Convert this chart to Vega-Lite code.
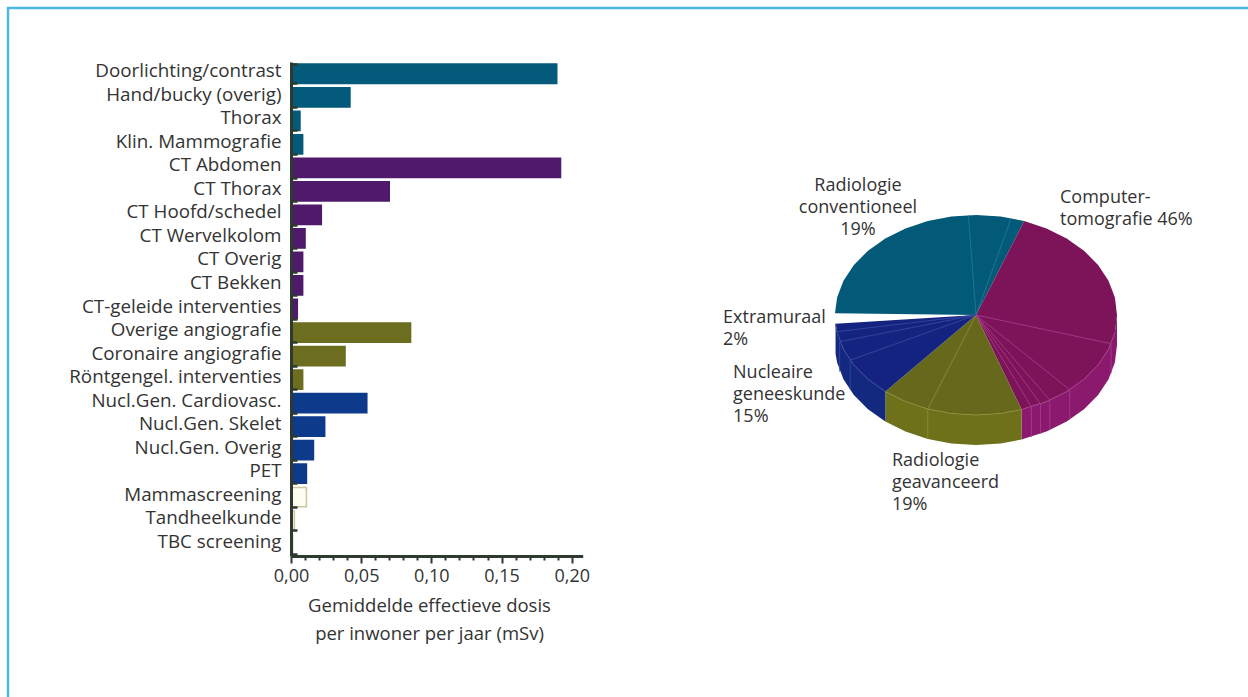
{"$schema":"https://vega.github.io/schema/vega-lite/v6.json","width":1260,"height":709,"autosize":{"type":"none"},"padding":{"left":8,"top":8,"right":-20,"bottom":-20},"background":"#ffffff","view":{"stroke":"#4db9e9","strokeWidth":2.5,"fill":null},"config":{"font":"Open Sans","axis":{"grid":false}},
"datasets":{
"bars":[{"cat":"Doorlichting/contrast","dose":0.1893,"group":"conv"},{"cat":"Hand/bucky (overig)","dose":0.042,"group":"conv"},{"cat":"Thorax","dose":0.0064,"group":"conv"},{"cat":"Klin. Mammografie","dose":0.0083,"group":"conv"},{"cat":"CT Abdomen","dose":0.192,"group":"ct"},{"cat":"CT Thorax","dose":0.07,"group":"ct"},{"cat":"CT Hoofd/schedel","dose":0.0216,"group":"ct"},{"cat":"CT Wervelkolom","dose":0.01,"group":"ct"},{"cat":"CT Overig","dose":0.0083,"group":"ct"},{"cat":"CT Bekken","dose":0.0083,"group":"ct"},{"cat":"CT-geleide interventies","dose":0.0045,"group":"ct"},{"cat":"Overige angiografie","dose":0.0852,"group":"adv"},{"cat":"Coronaire angiografie","dose":0.0385,"group":"adv"},{"cat":"Röntgengel. interventies","dose":0.0083,"group":"adv"},{"cat":"Nucl.Gen. Cardiovasc.","dose":0.054,"group":"nuc"},{"cat":"Nucl.Gen. Skelet","dose":0.024,"group":"nuc"},{"cat":"Nucl.Gen. Overig","dose":0.016,"group":"nuc"},{"cat":"PET","dose":0.011,"group":"nuc"},{"cat":"Mammascreening","dose":0.011,"group":"extra"},{"cat":"Tandheelkunde","dose":0.0024,"group":"extra"},{"cat":"TBC screening","dose":0.0012,"group":"extra"}],
"poly":[
{"f":"conv","i":0,"u":0,"v":0},{"f":"conv","i":1,"u":-1,"v":-0.017},{"f":"conv","i":2,"u":-0.985,"v":-0.174},{"f":"conv","i":3,"u":-0.94,"v":-0.342},{"f":"conv","i":4,"u":-0.866,"v":-0.5},{"f":"conv","i":5,"u":-0.766,"v":-0.643},{"f":"conv","i":6,"u":-0.643,"v":-0.766},{"f":"conv","i":7,"u":-0.5,"v":-0.866},{"f":"conv","i":8,"u":-0.342,"v":-0.94},{"f":"conv","i":9,"u":-0.174,"v":-0.985},{"f":"conv","i":10,"u":0,"v":-1},{"f":"conv","i":11,"u":0.174,"v":-0.985},{"f":"conv","i":12,"u":0.342,"v":-0.94},
{"f":"ct-side","i":0,"u":1,"v":0},{"f":"ct-side","i":1,"u":0.985,"v":0.174},{"f":"ct-side","i":2,"u":0.94,"v":0.342},{"f":"ct-side","i":3,"u":0.866,"v":0.5},{"f":"ct-side","i":4,"u":0.766,"v":0.643},{"f":"ct-side","i":5,"u":0.643,"v":0.766},{"f":"ct-side","i":6,"u":0.5,"v":0.866},{"f":"ct-side","i":7,"u":0.323,"v":0.945},{"f":"ct-side","i":8,"u":0.323,"v":1.245},{"f":"ct-side","i":9,"u":0.5,"v":1.166},{"f":"ct-side","i":10,"u":0.643,"v":1.066},{"f":"ct-side","i":11,"u":0.766,"v":0.943},{"f":"ct-side","i":12,"u":0.866,"v":0.8},{"f":"ct-side","i":13,"u":0.94,"v":0.642},{"f":"ct-side","i":14,"u":0.985,"v":0.474},{"f":"ct-side","i":15,"u":1,"v":0.3},
{"f":"adv-side","i":0,"u":0.323,"v":0.945},{"f":"adv-side","i":1,"u":0.174,"v":0.985},{"f":"adv-side","i":2,"u":0,"v":1},{"f":"adv-side","i":3,"u":-0.174,"v":0.985},{"f":"adv-side","i":4,"u":-0.342,"v":0.94},{"f":"adv-side","i":5,"u":-0.5,"v":0.866},{"f":"adv-side","i":6,"u":-0.643,"v":0.766},{"f":"adv-side","i":7,"u":-0.643,"v":1.066},{"f":"adv-side","i":8,"u":-0.5,"v":1.166},{"f":"adv-side","i":9,"u":-0.342,"v":1.24},{"f":"adv-side","i":10,"u":-0.174,"v":1.285},{"f":"adv-side","i":11,"u":0,"v":1.3},{"f":"adv-side","i":12,"u":0.174,"v":1.285},{"f":"adv-side","i":13,"u":0.323,"v":1.245},
{"f":"nuc-side","i":0,"u":-0.643,"v":0.766},{"f":"nuc-side","i":1,"u":-0.766,"v":0.643},{"f":"nuc-side","i":2,"u":-0.866,"v":0.5},{"f":"nuc-side","i":3,"u":-0.94,"v":0.342},{"f":"nuc-side","i":4,"u":-0.985,"v":0.174},{"f":"nuc-side","i":5,"u":-0.996,"v":0.087},{"f":"nuc-side","i":6,"u":-0.996,"v":0.387},{"f":"nuc-side","i":7,"u":-0.985,"v":0.474},{"f":"nuc-side","i":8,"u":-0.94,"v":0.642},{"f":"nuc-side","i":9,"u":-0.866,"v":0.8},{"f":"nuc-side","i":10,"u":-0.766,"v":0.943},{"f":"nuc-side","i":11,"u":-0.643,"v":1.066},
{"f":"ct","i":0,"u":0,"v":0},{"f":"ct","i":1,"u":0.342,"v":-0.94},{"f":"ct","i":2,"u":0.5,"v":-0.866},{"f":"ct","i":3,"u":0.643,"v":-0.766},{"f":"ct","i":4,"u":0.766,"v":-0.643},{"f":"ct","i":5,"u":0.866,"v":-0.5},{"f":"ct","i":6,"u":0.94,"v":-0.342},{"f":"ct","i":7,"u":0.985,"v":-0.174},{"f":"ct","i":8,"u":1,"v":0},{"f":"ct","i":9,"u":0.985,"v":0.174},{"f":"ct","i":10,"u":0.94,"v":0.342},{"f":"ct","i":11,"u":0.866,"v":0.5},{"f":"ct","i":12,"u":0.766,"v":0.643},{"f":"ct","i":13,"u":0.643,"v":0.766},{"f":"ct","i":14,"u":0.5,"v":0.866},{"f":"ct","i":15,"u":0.323,"v":0.945},
{"f":"adv","i":0,"u":0,"v":0},{"f":"adv","i":1,"u":0.323,"v":0.945},{"f":"adv","i":2,"u":0.174,"v":0.985},{"f":"adv","i":3,"u":0,"v":1},{"f":"adv","i":4,"u":-0.174,"v":0.985},{"f":"adv","i":5,"u":-0.342,"v":0.94},{"f":"adv","i":6,"u":-0.5,"v":0.866},{"f":"adv","i":7,"u":-0.643,"v":0.766},
{"f":"nuc","i":0,"u":0,"v":0},{"f":"nuc","i":1,"u":-0.643,"v":0.766},{"f":"nuc","i":2,"u":-0.766,"v":0.643},{"f":"nuc","i":3,"u":-0.866,"v":0.5},{"f":"nuc","i":4,"u":-0.94,"v":0.342},{"f":"nuc","i":5,"u":-0.985,"v":0.174},{"f":"nuc","i":6,"u":-0.996,"v":0.087}],
"lines":[
{"l":"a","g":"conv","i":0,"u":0,"v":0},{"l":"a","g":"conv","i":1,"u":-0.054,"v":-0.999},
{"l":"b","g":"conv","i":0,"u":0,"v":0},{"l":"b","g":"conv","i":1,"u":0.25,"v":-0.968},
{"l":"c","g":"ct","i":0,"u":0,"v":0},{"l":"c","g":"ct","i":1,"u":0.958,"v":0.287},{"l":"c","g":"ct","i":2,"u":0.958,"v":0.587},
{"l":"d","g":"ct","i":0,"u":0,"v":0},{"l":"d","g":"ct","i":1,"u":0.665,"v":0.747},{"l":"d","g":"ct","i":2,"u":0.665,"v":1.047},
{"l":"e","g":"ct","i":0,"u":0,"v":0},{"l":"e","g":"ct","i":1,"u":0.524,"v":0.852},{"l":"e","g":"ct","i":2,"u":0.524,"v":1.152},
{"l":"f","g":"ct","i":0,"u":0,"v":0},{"l":"f","g":"ct","i":1,"u":0.458,"v":0.889},{"l":"f","g":"ct","i":2,"u":0.458,"v":1.189},
{"l":"g","g":"ct","i":0,"u":0,"v":0},{"l":"g","g":"ct","i":1,"u":0.393,"v":0.92},{"l":"g","g":"ct","i":2,"u":0.393,"v":1.22},
{"l":"h","g":"adv","i":0,"u":0,"v":0},{"l":"h","g":"adv","i":1,"u":-0.342,"v":0.94},{"l":"h","g":"adv","i":2,"u":-0.342,"v":1.24},
{"l":"j","g":"nuc","i":0,"u":0,"v":0},{"l":"j","g":"nuc","i":1,"u":-0.892,"v":0.452},{"l":"j","g":"nuc","i":2,"u":-0.892,"v":0.752},
{"l":"k","g":"nuc","i":0,"u":0,"v":0},{"l":"k","g":"nuc","i":1,"u":-0.967,"v":0.267},{"l":"k","g":"nuc","i":2,"u":-0.967,"v":0.567},
{"l":"m","g":"nuc","i":0,"u":0,"v":0},{"l":"m","g":"nuc","i":1,"u":-0.986,"v":0.167},
{"l":"r1","g":"ct","i":0,"u":0.985,"v":0.174},{"l":"r1","g":"ct","i":1,"u":0.94,"v":0.342},{"l":"r1","g":"ct","i":2,"u":0.866,"v":0.5},{"l":"r1","g":"ct","i":3,"u":0.766,"v":0.643},{"l":"r1","g":"ct","i":4,"u":0.643,"v":0.766},{"l":"r1","g":"ct","i":5,"u":0.5,"v":0.866},{"l":"r1","g":"ct","i":6,"u":0.323,"v":0.945},
{"l":"r2","g":"adv","i":0,"u":0.323,"v":0.945},{"l":"r2","g":"adv","i":1,"u":0.174,"v":0.985},{"l":"r2","g":"adv","i":2,"u":0,"v":1},{"l":"r2","g":"adv","i":3,"u":-0.174,"v":0.985},{"l":"r2","g":"adv","i":4,"u":-0.342,"v":0.94},{"l":"r2","g":"adv","i":5,"u":-0.5,"v":0.866},{"l":"r2","g":"adv","i":6,"u":-0.643,"v":0.766},
{"l":"r3","g":"nuc","i":0,"u":-0.643,"v":0.766},{"l":"r3","g":"nuc","i":1,"u":-0.766,"v":0.643},{"l":"r3","g":"nuc","i":2,"u":-0.866,"v":0.5},{"l":"r3","g":"nuc","i":3,"u":-0.94,"v":0.342},{"l":"r3","g":"nuc","i":4,"u":-0.985,"v":0.174},{"l":"r3","g":"nuc","i":5,"u":-0.996,"v":0.087}]
},
"layer":[
{"data":{"name":"bars"},"mark":{"type":"bar","strokeWidth":1.5},
"encoding":{
"y":{"field":"cat","type":"nominal","sort":null,"scale":{"type":"band","range":[54,548],"paddingInner":0.18,"paddingOuter":0.09},
"axis":{"title":null,"orient":"left","offset":-283,"grid":false,"domainColor":"#2f3a2f","domainWidth":3,"tickBand":"extent","tickColor":"#2f3a2f","tickWidth":2.5,"tickSize":-6,"labelFontSize":18.8,"labelColor":"#333333","labelPadding":16,"labelOffset":-3,"labelLimit":300,"labelOverlap":false,"zindex":1}},
"x":{"field":"dose","type":"quantitative","scale":{"domain":[0,0.2078],"range":[283,574.7],"nice":false},
"axis":{"title":["Gemiddelde effectieve dosis","per inwoner per jaar (mSv)"],"orient":"bottom","offset":-161,"grid":false,"values":[0,0.01,0.02,0.03,0.04,0.05,0.06,0.07,0.08,0.09,0.1,0.11,0.12,0.13,0.14,0.15,0.16,0.17,0.18,0.19,0.2],"labelExpr":"round(datum.value*100)%5==0 ? replace(format(datum.value,'.2f'),'.',',') : ''","domainColor":"#2f3a2f","domainWidth":3,"tickColor":"#2f3a2f","tickWidth":2,"tickSize":{"condition":{"test":"round(datum.value*100)%5==0","value":7},"value":4},"labelFontSize":18,"labelColor":"#333333","labelPadding":4,"labelOverlap":false,"labelFlush":false,"titleFontSize":18.5,"titleFontWeight":"normal","titleColor":"#333333","titleLineHeight":28,"titleX":421,"titleY":40,"zindex":1}},
"fill":{"field":"group","type":"nominal","legend":null,"scale":{"domain":["conv","ct","adv","nuc","extra"],"range":["#045a7a","#4f1a6b","#6c6d1f","#0e3a8c","#fffcf0"]}},
"stroke":{"field":"group","type":"nominal","legend":null,"scale":{"domain":["conv","ct","adv","nuc","extra"],"range":["#045a7a","#4f1a6b","#6c6d1f","#0e3a8c","#cdc5a0"]}}
}},
{"layer":[
{"data":{"name":"poly"},"mark":{"type":"line","strokeWidth":0},
"encoding":{
"x":{"field":"u","type":"quantitative","axis":null,"scale":{"domain":[-1,1],"range":[827,1109],"nice":false,"zero":false}},
"y":{"field":"v","type":"quantitative","axis":null,"scale":{"domain":[-1,1],"range":[207,407],"nice":false,"zero":false}},
"fill":{"field":"f","type":"nominal","legend":null,"sort":null,"scale":{"domain":["conv","ct","adv","nuc","ct-side","adv-side","nuc-side"],"range":["#035a78","#7d1358","#66691c","#14237f","#8b1a6e","#6f701a","#13297f"]}},
"order":{"field":"i","type":"quantitative"}}},
{"data":{"name":"lines"},"mark":{"type":"line","strokeWidth":1,"opacity":0.8},
"encoding":{
"x":{"field":"u","type":"quantitative"},
"y":{"field":"v","type":"quantitative"},
"detail":{"field":"l"},
"stroke":{"field":"g","type":"nominal","legend":null,"scale":{"domain":["conv","ct","adv","nuc"],"range":["#1f7c9c","#a8408f","#8f9038","#3b4aa0"]}},
"order":{"field":"i","type":"quantitative"}}},
{"data":{"values":[{"label":"Radiologie\nconventioneel\n19%","u":-0.837,"v":-1.29}]},"mark":{"type":"text","align":"center","baseline":"middle","lineBreak":"\n","lineHeight":22,"fontSize":18,"color":"#333333"},
"encoding":{"x":{"field":"u","type":"quantitative"},"y":{"field":"v","type":"quantitative"},"text":{"field":"label"}}},
{"data":{"values":[{"label":"Computer-\ntomografie 46%","u":0.596,"v":-1.17},{"label":"Extramuraal\n2%","u":-1.794,"v":0.03},{"label":"Nucleaire\ngeneeskunde\n15%","u":-1.723,"v":0.58},{"label":"Radiologie\ngeavanceerd\n19%","u":-0.596,"v":1.46}]},"mark":{"type":"text","align":"left","baseline":"middle","lineBreak":"\n","lineHeight":22,"fontSize":18,"color":"#333333"},
"encoding":{"x":{"field":"u","type":"quantitative"},"y":{"field":"v","type":"quantitative"},"text":{"field":"label"}}}
]}
],
"resolve":{"scale":{"x":"independent","y":"independent","fill":"independent","stroke":"independent"},"axis":{"x":"independent","y":"independent"}}}
